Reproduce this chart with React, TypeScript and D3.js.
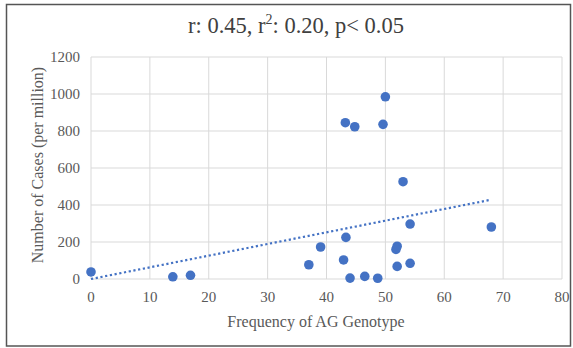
import React, { useEffect, useRef } from 'react';
import * as d3 from 'd3';

// genotype frequency (%) vs cases per million
const freqAG = [0, 13.9, 16.9, 37.0, 39.0, 43.2, 44.8, 43.3, 42.9, 44.0, 50.0, 49.6, 46.5, 48.7, 53.0, 54.2, 52.0, 51.8, 52.0, 54.2, 68.0];
const cases = [38, 12, 20, 77, 173, 845, 823, 225, 103, 5, 985, 836, 14, 4, 526, 297, 177, 160, 68, 85, 281];

// linear trendline end points
const trendX = [0, 67.7];
const trendY = [0, 427];

const xTicks = [0, 10, 20, 30, 40, 50, 60, 70, 80];
const yTicks = [0, 200, 400, 600, 800, 1000, 1200];

const App = () => {
  const ref = useRef<SVGSVGElement | null>(null);

  useEffect(() => {
    const svg = d3.select(ref.current);
    svg.selectAll('*').remove();

    const W = 573;
    const H = 348;
    const margin = { top: 57, right: 11, bottom: 69, left: 91 };
    const width = W - margin.left - margin.right;
    const height = H - margin.top - margin.bottom;
    const font = '"Liberation Serif", "Times New Roman", serif';

    // chart frame
    svg.append('rect')
      .attr('x', 6.5).attr('y', 4.5)
      .attr('width', 564).attr('height', 341.5)
      .attr('fill', '#fff')
      .attr('stroke', '#555')
      .attr('stroke-width', 1.5);

    const g = svg.append('g')
      .attr('transform', `translate(${margin.left}, ${margin.top})`);

    const x = d3.scaleLinear().domain([0, 80]).range([0, width]);
    const y = d3.scaleLinear().domain([0, 1200]).range([height, 0]);

    // gridlines
    g.append('g')
      .selectAll('line.v')
      .data(xTicks)
      .join('line')
      .attr('x1', d => x(d)).attr('x2', d => x(d))
      .attr('y1', 0).attr('y2', height)
      .attr('stroke', '#d9d9d9')
      .attr('stroke-width', 1);

    g.append('g')
      .selectAll('line.h')
      .data(yTicks)
      .join('line')
      .attr('x1', 0).attr('x2', width)
      .attr('y1', d => y(d)).attr('y2', d => y(d))
      .attr('stroke', '#d9d9d9')
      .attr('stroke-width', 1);

    // tick labels
    g.append('g')
      .selectAll('text')
      .data(yTicks)
      .join('text')
      .attr('x', -11)
      .attr('y', d => y(d))
      .attr('dy', '0.35em')
      .attr('text-anchor', 'end')
      .attr('font-family', font)
      .attr('font-size', 15)
      .attr('fill', '#595959')
      .text(d => d);

    g.append('g')
      .selectAll('text')
      .data(xTicks)
      .join('text')
      .attr('x', d => x(d))
      .attr('y', height + 18)
      .attr('dy', '0.35em')
      .attr('text-anchor', 'middle')
      .attr('font-family', font)
      .attr('font-size', 15)
      .attr('fill', '#595959')
      .text(d => d);

    // trendline
    const line = d3.line<number>()
      .x(d => x(d))
      .y((d, i) => y(trendY[i]));

    g.append('path')
      .datum(trendX)
      .attr('fill', 'none')
      .attr('stroke', '#4472C4')
      .attr('stroke-width', 2.2)
      .attr('stroke-dasharray', '2.2 2.6')
      .attr('d', line);

    // points
    g.append('g')
      .selectAll('circle')
      .data(freqAG)
      .join('circle')
      .attr('cx', d => x(d))
      .attr('cy', (d, i) => y(cases[i]))
      .attr('r', 4.8)
      .attr('fill', '#4472C4');

    // title
    const title = svg.append('text')
      .attr('x', 296)
      .attr('y', 33)
      .attr('text-anchor', 'middle')
      .attr('font-family', font)
      .attr('font-size', 22.5)
      .attr('fill', '#404040');
    title.append('tspan').text('r: 0.45, r');
    title.append('tspan').attr('font-size', 14).attr('dy', -9).text('2');
    title.append('tspan').attr('dy', 9).text(': 0.20, p< 0.05');

    // axis titles
    svg.append('text')
      .attr('x', 316)
      .attr('y', 321)
      .attr('dy', '0.35em')
      .attr('text-anchor', 'middle')
      .attr('font-family', font)
      .attr('font-size', 16)
      .attr('fill', '#595959')
      .text('Frequency of AG Genotype');

    svg.append('text')
      .attr('transform', 'translate(37, 165) rotate(-90)')
      .attr('dy', '0.35em')
      .attr('text-anchor', 'middle')
      .attr('font-family', font)
      .attr('font-size', 16)
      .attr('fill', '#595959')
      .text('Number of Cases (per million)');
  }, []);

  return <svg ref={ref} width={573} height={348} style={{ display: 'block', position: 'absolute', left: 0, top: 0 }} />;
};

export default App;
